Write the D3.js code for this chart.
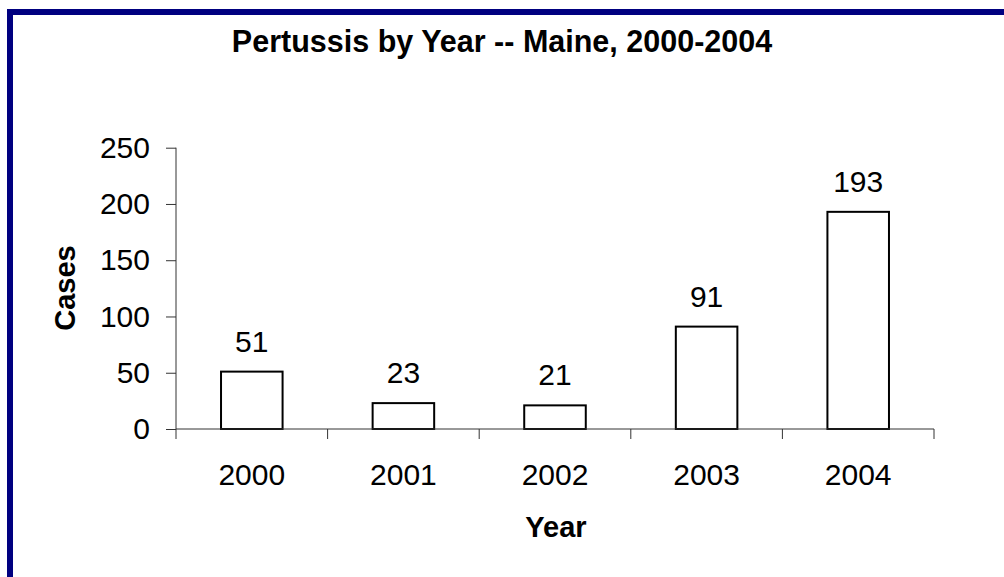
<!DOCTYPE html>
<html>
<head>
<meta charset="utf-8">
<script src="https://cdn.jsdelivr.net/npm/d3@7"></script>
<style>
  html, body { margin: 0; padding: 0; background: #fff; }
  svg { display: block; font-family: Arial, "Liberation Sans", sans-serif; }
</style>
</head>
<body>
<svg id="chart" width="1004" height="577"></svg>
<script>
const years = ["2000", "2001", "2002", "2003", "2004"];
const cases = [51, 23, 21, 91, 193];
const yTicks = [0, 50, 100, 150, 200, 250];
const titleText = "Pertussis by Year -- Maine, 2000-2004";
const xTitle = "Year";
const yTitle = "Cases";

const svg = d3.select("#chart");
const plot = { left: 176, right: 934, top: 147.7, bottom: 429 };

// frame border (left and top)
svg.append("rect").attr("x", 7).attr("y", 9).attr("width", 6).attr("height", 577 - 9).attr("fill", "#000080");
svg.append("rect").attr("x", 7).attr("y", 9).attr("width", 1004 - 7).attr("height", 6).attr("fill", "#000080");

const x = d3.scaleBand().domain(years).range([plot.left, plot.right])
  .paddingInner(0.594).paddingOuter(0.297);
const y = d3.scaleLinear().domain([0, 250]).range([plot.bottom, plot.top]);

// title
svg.append("text").attr("x", 502).attr("y", 52).attr("text-anchor", "middle")
  .attr("font-size", 30.5).attr("font-weight", "bold").attr("fill", "#000").text(titleText);

// bars
svg.append("g").selectAll("rect").data(years).join("rect")
  .attr("x", d => x(d))
  .attr("y", (d, i) => y(cases[i]))
  .attr("width", x.bandwidth())
  .attr("height", (d, i) => y(0) - y(cases[i]))
  .attr("fill", "#fff").attr("stroke", "#000").attr("stroke-width", 2);

// value labels
svg.append("g").selectAll("text").data(years).join("text")
  .attr("x", d => x(d) + x.bandwidth() / 2)
  .attr("y", (d, i) => y(cases[i]) - 20)
  .attr("text-anchor", "middle").attr("font-size", 30).attr("fill", "#000")
  .text((d, i) => cases[i]);

// y axis
const yAxis = d3.axisLeft(y).tickValues(yTicks).tickSize(10).tickPadding(16).tickFormat(d3.format("d"));
const gy = svg.append("g").attr("transform", `translate(${plot.left},0)`).call(yAxis);
gy.select(".domain").attr("stroke", "#333").attr("d", `M0,${plot.top}V${plot.bottom}`);
gy.selectAll(".tick line").attr("stroke", "#333");
gy.selectAll(".tick text").attr("font-size", 30).attr("font-family", "Arial, 'Liberation Sans', sans-serif").attr("fill", "#000");

// x axis: line with boundary ticks
const boundaries = years.map(d => x(d) - x.step() * x.paddingInner() / 2);
boundaries.push(plot.right);
const gx = svg.append("g");
gx.append("line").attr("x1", plot.left).attr("x2", plot.right).attr("y1", plot.bottom).attr("y2", plot.bottom).attr("stroke", "#333");
gx.selectAll("line.b").data(boundaries).join("line").attr("class", "b")
  .attr("x1", d => d).attr("x2", d => d).attr("y1", plot.bottom).attr("y2", plot.bottom + 10).attr("stroke", "#333");
gx.selectAll("text").data(years).join("text")
  .attr("x", d => x(d) + x.bandwidth() / 2).attr("y", 485)
  .attr("text-anchor", "middle").attr("font-size", 30).attr("fill", "#000").text(d => d);

// axis titles
svg.append("text").attr("x", 556).attr("y", 537).attr("text-anchor", "middle")
  .attr("font-size", 29).attr("font-weight", "bold").text(xTitle);
svg.append("text").attr("transform", `translate(75,288) rotate(-90)`).attr("text-anchor", "middle")
  .attr("font-size", 29).attr("font-weight", "bold").text(yTitle);
</script>
</body>
</html>
